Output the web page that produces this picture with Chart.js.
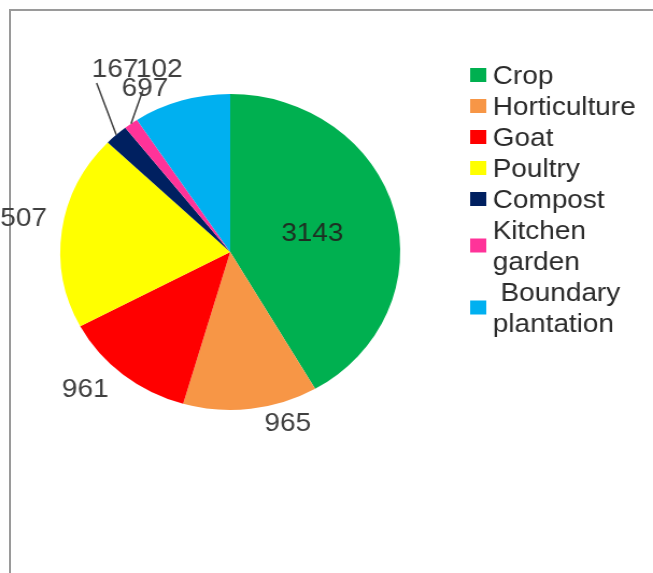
<!DOCTYPE html>
<html>
<head>
<meta charset="utf-8">
<script src="https://cdn.jsdelivr.net/npm/chart.js@4.4.1/dist/chart.umd.min.js"></script>
<style>
html, body { margin: 0; padding: 0; background: #fff; overflow: hidden; }
#frame { position: absolute; left: 9px; top: 9px; right: 0; bottom: 0; border-top: 2px solid #9a9a9a; border-left: 2px solid #9a9a9a; }
/* the reference picture is a little wider than tall, so stretch the canvas */
#wrap { position: absolute; left: 0; top: 0; width: 607px; height: 573px; transform: scaleX(1.0758); transform-origin: 0 0; }
</style>
</head>
<body>
<div id="frame"></div>
<div id="wrap"><canvas id="pieChart" width="607" height="573" style="width:607px;height:573px"></canvas></div>
<script>
var categories = ['Crop', 'Horticulture', 'Goat', 'Poultry', 'Compost', 'Kitchen garden', 'Boundary plantation'];
var values = [3143, 965, 961, 1507, 167, 102, 697];
var colors = ['#00b050', '#f79646', '#ff0000', '#ffff00', '#002060', '#ff3399', '#00b0f0'];
var legendLines = [['Crop'], ['Horticulture'], ['Goat'], ['Poultry'], ['Compost'], ['Kitchen', 'garden'], [' Boundary', 'plantation']];

// where each value label sits: radius factor and angle shift (deg) from the slice middle
var labelPlace = [
    { r: 0.50, da: 0 },
    { r: 1.13, da: -10.5 },
    { r: 1.21, da: 5.8 },
    { r: 1.28, da: 2 },
    { r: 1.35, da: 12 },
    { r: 1.24, da: 16 },
    { r: 1.16, da: -9 }
];
// leader lines for the thin slices
var leaders = [null, null, null, null, { r: 1.327, da: 5.8 }, { r: 1.146, da: 9.1 }, null];

var FONT = '26px "Liberation Sans", Arial, sans-serif';

var valueLabels = {
    id: 'valueLabels',
    afterDatasetsDraw: function(chart) {
        var ctx = chart.ctx;
        var meta = chart.getDatasetMeta(0);
        ctx.save();
        meta.data.forEach(function(arc, i) {
            var p = arc.getProps(['x', 'y', 'startAngle', 'endAngle', 'outerRadius'], true);
            var mid = (p.startAngle + p.endAngle) / 2;
            var R = p.outerRadius;
            var lp = labelPlace[i];
            var a = mid + lp.da * Math.PI / 180;
            var tx = p.x + Math.cos(a) * R * lp.r;
            var ty = p.y + Math.sin(a) * R * lp.r;
            var ld = leaders[i];
            if (ld) {
                var b = mid + ld.da * Math.PI / 180;
                ctx.beginPath();
                ctx.moveTo(p.x + Math.cos(mid) * R, p.y + Math.sin(mid) * R);
                ctx.lineTo(p.x + Math.cos(b) * R * ld.r, p.y + Math.sin(b) * R * ld.r);
                ctx.strokeStyle = '#404040';
                ctx.lineWidth = 1.5;
                ctx.stroke();
            }
            ctx.font = FONT;
            ctx.fillStyle = i === 0 ? '#1e2e22' : '#404040';
            ctx.textAlign = 'center';
            ctx.textBaseline = 'alphabetic';
            ctx.fillText(String(values[i]), tx, ty + 9);
        });
        ctx.restore();
    }
};

// legend drawn by hand so that long names can wrap onto two lines
var sideLegend = {
    id: 'sideLegend',
    afterDraw: function(chart) {
        var ctx = chart.ctx;
        var boxX = 437, textX = 458, y0 = 75, step = 31;
        var row = 0;
        ctx.save();
        ctx.font = FONT;
        ctx.textAlign = 'left';
        ctx.textBaseline = 'alphabetic';
        legendLines.forEach(function(lines, i) {
            var first = y0 + row * step;
            var last = y0 + (row + lines.length - 1) * step;
            var cy = (first + last) / 2;
            ctx.fillStyle = colors[i];
            ctx.fillRect(boxX, cy - 7, 15, 14);
            ctx.fillStyle = '#2b2b2b';
            lines.forEach(function(t, k) {
                ctx.fillText(t, textX, first + k * step + 9);
            });
            row += lines.length;
        });
        ctx.restore();
    }
};

var pieCtx = document.getElementById('pieChart').getContext('2d');
var pieChart = new Chart(pieCtx, {
    type: 'pie',
    data: {
        labels: categories,
        datasets: [{
            data: values,
            backgroundColor: colors,
            borderWidth: 0
        }]
    },
    options: {
        responsive: false,
        animation: false,
        devicePixelRatio: 1,
        layout: {
            padding: { left: 56, top: 94, right: 235, bottom: 163 }
        },
        plugins: {
            legend: { display: false },
            tooltip: { enabled: false }
        }
    },
    plugins: [valueLabels, sideLegend]
});
</script>
</body>
</html>
